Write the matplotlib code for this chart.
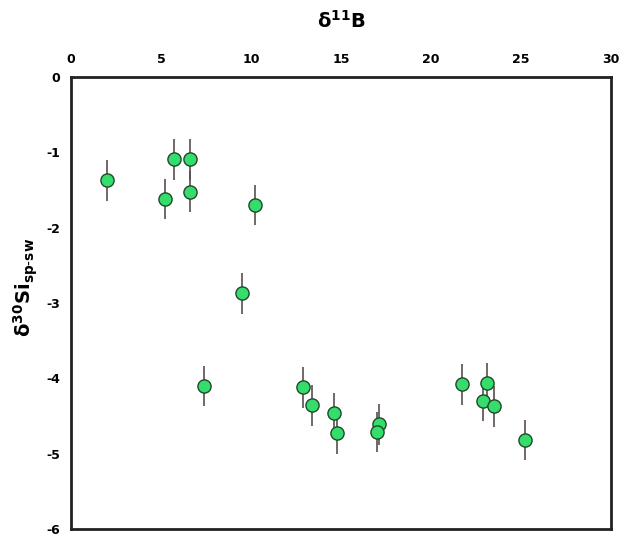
import matplotlib
matplotlib.use("Agg")
import matplotlib.pyplot as plt

plt.rcParams["font.family"] = ["DejaVu Sans"]
plt.rcParams["mathtext.default"] = "regular"
plt.rcParams["axes.unicode_minus"] = False

# boron vs silicon isotope data
d11b = [2.0, 5.2, 5.7, 6.6, 6.6, 10.2, 9.5, 7.4, 12.9, 13.4, 14.6, 14.8,
        17.1, 17.0, 21.7, 23.1, 22.9, 23.5, 25.2]
d30si = [-1.37, -1.62, -1.09, -1.09, -1.52, -1.70, -2.87, -4.10, -4.12, -4.36,
         -4.46, -4.73, -4.61, -4.71, -4.08, -4.06, -4.30, -4.37, -4.82]
err = [0.27] * len(d11b)

xticks = [0, 5, 10, 15, 20, 25, 30]
yticks = [0, -1, -2, -3, -4, -5, -6]

fig = plt.figure(figsize=(6.21, 5.38), dpi=100)
ax = fig.add_axes([0.1143, 0.0167, 0.8696, 0.840])

ax.errorbar(d11b, d30si, yerr=err, fmt="o", color="#5a4e4a", elinewidth=1.2,
            capsize=0, markersize=9.5, markerfacecolor="#35dd6c",
            markeredgecolor="#1f4a2a", markeredgewidth=1.0, zorder=3)

ax.set_xlim(0, 30)
ax.set_ylim(-6, 0)
ax.set_xticks(xticks)
ax.set_yticks(yticks)
ax.xaxis.tick_top()
ax.xaxis.set_label_position("top")
ax.tick_params(length=0, labelsize=9, pad=8)
for lab in ax.get_xticklabels() + ax.get_yticklabels():
    lab.set_fontweight("bold")

for sp in ax.spines.values():
    sp.set_linewidth(2.0)
    sp.set_color("#222222")

ax.set_xlabel("δ$^{11}$B", fontsize=14, fontweight="bold", labelpad=18)
ax.set_ylabel(r"δ$^{30}$Si$_{\mathbf{sp}\text{-}\mathbf{sw}}$", fontsize=14,
              fontweight="bold")
ax.yaxis.set_label_coords(-0.058, 0.535)

fig.savefig("out.png", dpi=100)
